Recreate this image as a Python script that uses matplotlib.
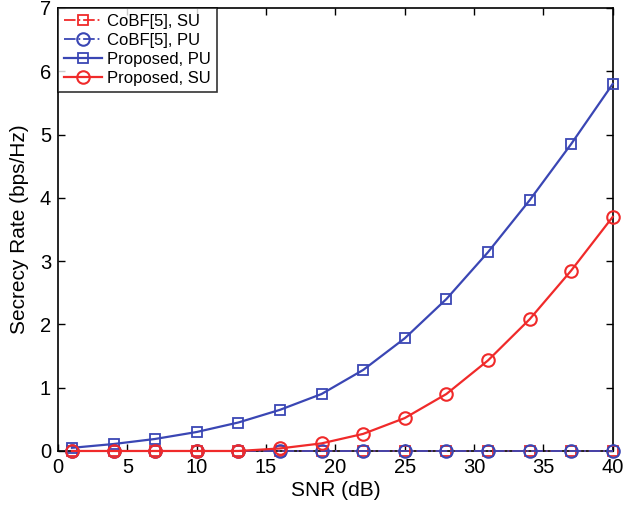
import matplotlib
matplotlib.use("Agg")
import matplotlib.pyplot as plt

plt.rcParams['font.family'] = ['Liberation Sans', 'DejaVu Sans']

snr_db = [1, 4, 7, 10, 13, 16, 19, 22, 25, 28, 31, 34, 37, 40]
cobf_su = [0.0] * 14
cobf_pu = [0.0] * 14
proposed_pu = [0.05, 0.11, 0.19, 0.30, 0.45, 0.65, 0.90, 1.28, 1.78, 2.40, 3.14, 3.96, 4.85, 5.80]
proposed_su = [0.0, 0.0, 0.0, 0.0, 0.0, 0.04, 0.12, 0.27, 0.52, 0.90, 1.43, 2.08, 2.85, 3.70]

blue = '#3a46b4'
red = '#f02a2a'

fig = plt.figure(figsize=(6.24, 5.14), dpi=100)
ax = fig.add_axes([0.093, 0.1226, 0.889, 0.862])

ax.plot(snr_db, cobf_su, linestyle='-.', color=red, marker='s', ms=6.5, mfc='none',
        mew=1.3, lw=1.3, label='CoBF[5], SU', clip_on=False, zorder=3)
ax.plot(snr_db, cobf_pu, linestyle='-.', color=blue, marker='o', ms=9, mfc='none',
        mew=1.5, lw=1.3, label='CoBF[5], PU', clip_on=False, zorder=4)
ax.plot(snr_db, proposed_pu, linestyle='-', color=blue, marker='s', ms=6.5, mfc='none',
        mew=1.3, lw=1.6, label='Proposed, PU', clip_on=False, zorder=5)
ax.plot(snr_db, proposed_su, linestyle='-', color=red, marker='o', ms=9, mfc='none',
        mew=1.5, lw=1.6, label='Proposed, SU', clip_on=False, zorder=6)

ax.set_xlim(0, 40)
ax.set_ylim(0, 7)
ax.set_xticks(range(0, 41, 5))
ax.set_yticks(range(0, 8))
ax.tick_params(direction='in', length=5, width=1, labelsize=14.5, top=True, right=True, pad=5)
for s in ax.spines.values():
    s.set_linewidth(1.2)

ax.set_xlabel('SNR (dB)', fontsize=15, labelpad=3)
ax.set_ylabel('Secrecy Rate (bps/Hz)', fontsize=15, labelpad=8)

leg = ax.legend(loc='upper left', fontsize=12, frameon=True, fancybox=False,
                edgecolor='black', borderpad=0.35, labelspacing=0.25,
                handlelength=2.3, handletextpad=0.3, borderaxespad=0.0)
leg.get_frame().set_linewidth(1.2)

fig.savefig('out.png', dpi=100)
